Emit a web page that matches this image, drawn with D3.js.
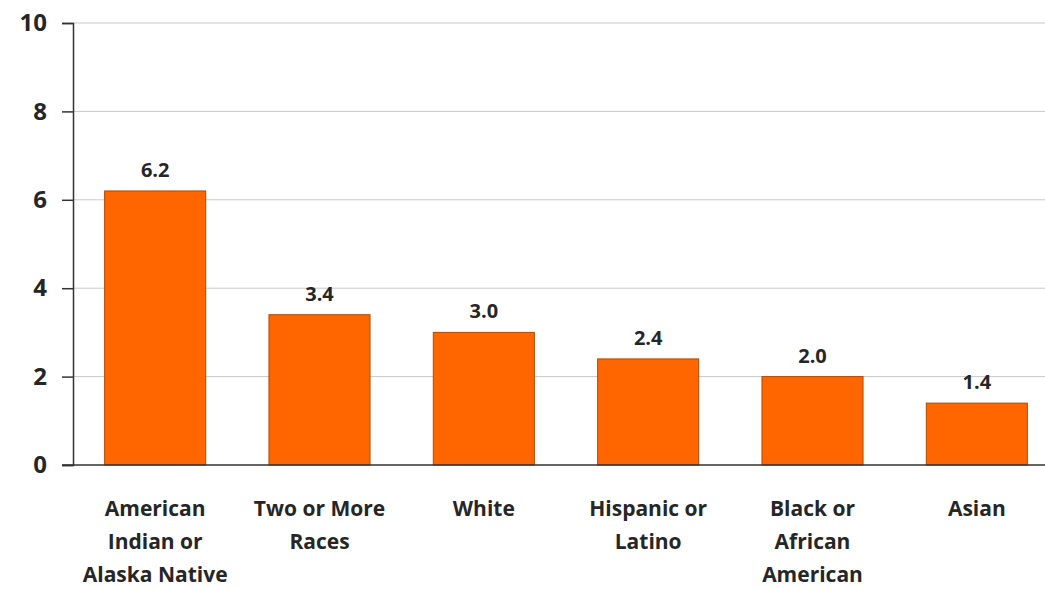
<!DOCTYPE html>
<html lang="en">
<head>
    <meta charset="UTF-8">
    <title>Rates by Race/Ethnicity</title>
    <script src="https://d3js.org/d3.v7.min.js"></script>
    <style>
        body {
            margin: 0;
            padding: 0;
            background: #fff;
            font-family: "Open Sans", Arial, sans-serif;
        }
        .tick text {
            font-weight: bold;
        }
    </style>
</head>
<body>
    <svg width="1045" height="590"></svg>

    <script>
        const categories = [
            ["American", "Indian or", "Alaska Native"],
            ["Two or More", "Races"],
            ["White"],
            ["Hispanic or", "Latino"],
            ["Black or", "African", "American"],
            ["Asian"]
        ];
        const values = [6.2, 3.4, 3.0, 2.4, 2.0, 1.4];
        const yTicks = [0, 2, 4, 6, 8, 10];

        const data = categories.map((c, i) => ({ id: i, lines: c, value: values[i] }));

        const svg = d3.select("svg");
        const plotLeft = 73, plotRight = 1059, plotTop = 23, plotBottom = 465;

        const x = d3.scaleBand()
            .domain(data.map(d => d.id))
            .range([plotLeft, plotRight])
            .paddingInner(0.385)
            .paddingOuter(0.1925);

        const y = d3.scaleLinear()
            .domain([0, 10])
            .range([plotBottom, plotTop]);

        // gridlines
        svg.append("g")
            .selectAll("line")
            .data(yTicks.filter(t => t > 0))
            .enter()
            .append("line")
            .attr("x1", plotLeft)
            .attr("x2", 1045)
            .attr("y1", d => y(d))
            .attr("y2", d => y(d))
            .attr("stroke", "#c8c8c8")
            .attr("stroke-width", 1);

        // bars
        svg.append("g")
            .selectAll("rect")
            .data(data)
            .enter()
            .append("rect")
            .attr("x", d => x(d.id))
            .attr("y", d => y(d.value))
            .attr("width", x.bandwidth())
            .attr("height", d => plotBottom - y(d.value))
            .attr("fill", "#ff6600")
            .attr("stroke", "#b34700")
            .attr("stroke-width", 1);

        // value labels
        svg.append("g")
            .selectAll("text")
            .data(data)
            .enter()
            .append("text")
            .attr("x", d => x(d.id) + x.bandwidth() / 2)
            .attr("y", d => y(d.value) - 14)
            .attr("text-anchor", "middle")
            .attr("font-size", 20)
            .attr("font-weight", "bold")
            .attr("fill", "#262626")
            .text(d => d.value.toFixed(1));

        // y axis
        const yAxis = svg.append("g")
            .attr("transform", `translate(${plotLeft},0)`)
            .call(d3.axisLeft(y).tickValues(yTicks).tickSize(11).tickPadding(15));
        yAxis.select(".domain").attr("stroke", "#333").attr("stroke-width", 1.5);
        yAxis.selectAll(".tick line").attr("stroke", "#333").attr("stroke-width", 1.5);
        yAxis.selectAll(".tick text")
            .attr("font-size", 24)
            .attr("font-family", "Open Sans, Arial, sans-serif")
            .attr("fill", "#262626");

        // x axis baseline
        svg.append("line")
            .attr("x1", plotLeft - 11)
            .attr("x2", 1045)
            .attr("y1", plotBottom)
            .attr("y2", plotBottom)
            .attr("stroke", "#333")
            .attr("stroke-width", 1.5);

        // x labels
        const xl = svg.append("g")
            .selectAll("text")
            .data(data)
            .enter()
            .append("text")
            .attr("text-anchor", "middle")
            .attr("font-size", 21)
            .attr("font-weight", "bold")
            .attr("fill", "#262626");
        xl.selectAll("tspan")
            .data(d => d.lines.map(l => ({ l, cx: x(d.id) + x.bandwidth() / 2 })))
            .enter()
            .append("tspan")
            .attr("x", d => d.cx)
            .attr("y", (d, i) => 516 + i * 33)
            .text(d => d.l);
    </script>
</body>
</html>
